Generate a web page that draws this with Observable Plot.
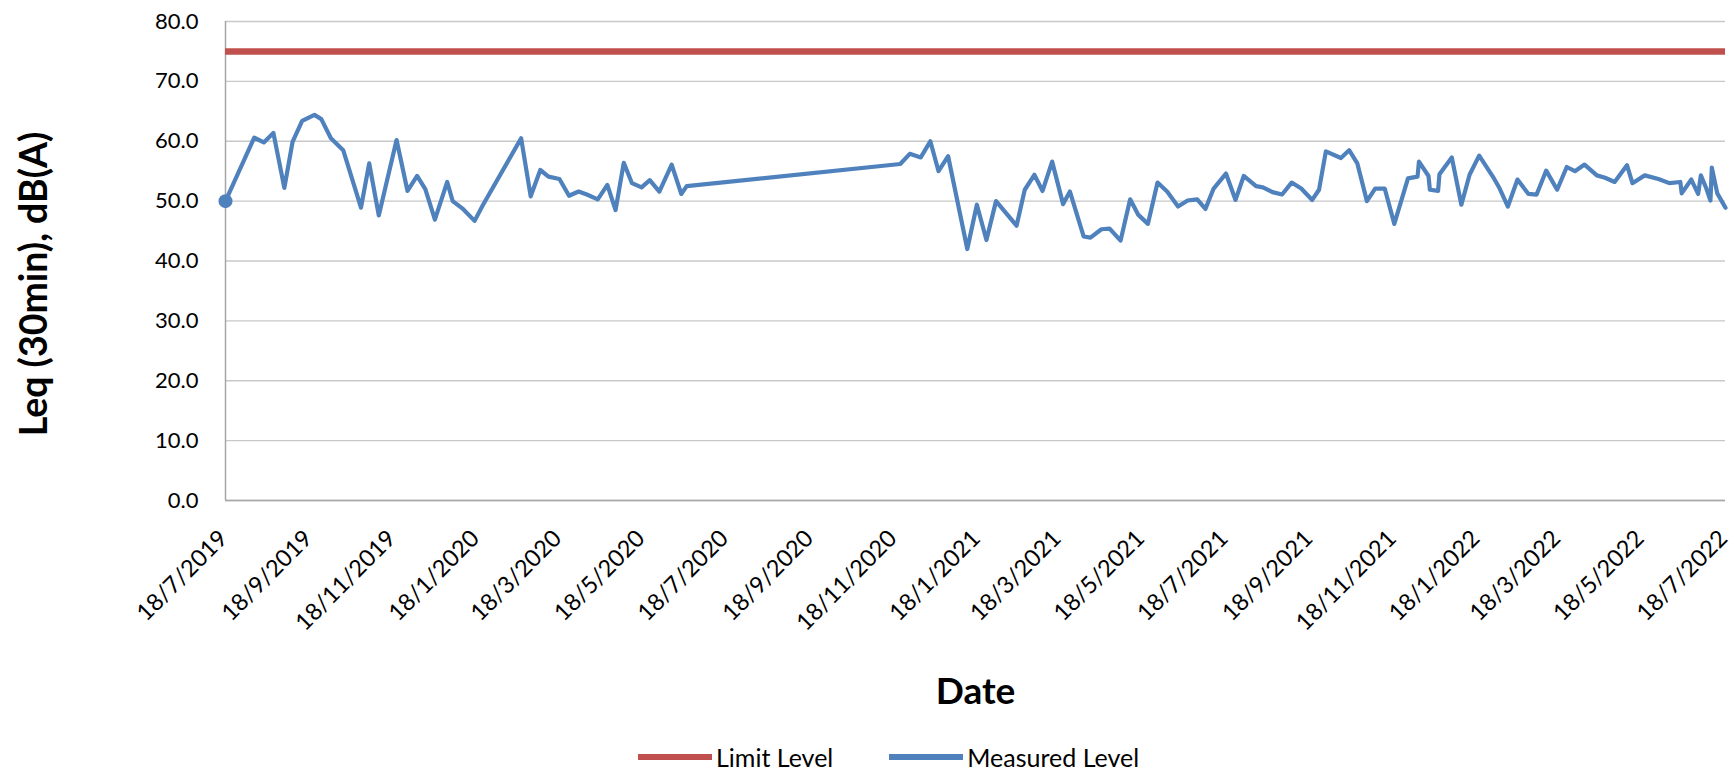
<!DOCTYPE html>
<html><head><meta charset="utf-8">
<script src="https://cdn.jsdelivr.net/npm/d3@7"></script>
<script src="https://cdn.jsdelivr.net/npm/@observablehq/plot@0.6"></script>
<style>
body{margin:0;background:#fff;font-family:Lato,"Open Sans",sans-serif;}
#wrap{position:relative;width:1733px;height:774px;overflow:hidden;background:#fff;}
#legend{position:absolute;left:638px;top:741px;display:flex;align-items:center;font-size:25px;color:#000;line-height:32px;white-space:nowrap;}
.sw{display:inline-block;width:74px;height:6px;margin-right:4px;}
.item{display:flex;align-items:center;margin-right:56px;}
</style></head><body>
<div id="wrap"><div id="chart"></div>
<div id="legend"></div></div>
<script>
const measuredDates = [
"2019-07-18","2019-08-08","2019-08-15","2019-08-22","2019-08-30","2019-09-05","2019-09-12","2019-09-21","2019-09-26",
"2019-10-03","2019-10-12","2019-10-25","2019-10-31","2019-11-07","2019-11-20","2019-11-28","2019-12-05","2019-12-11",
"2019-12-18","2019-12-27","2019-12-31","2020-01-07","2020-01-16","2020-01-22","2020-02-19","2020-02-26","2020-03-04",
"2020-03-10","2020-03-18","2020-03-25","2020-04-01","2020-04-07","2020-04-15","2020-04-22","2020-04-28","2020-05-04",
"2020-05-10","2020-05-17","2020-05-23","2020-05-30","2020-06-08","2020-06-15","2020-06-19","2020-11-22","2020-11-29",
"2020-12-07","2020-12-14","2020-12-20","2020-12-27","2021-01-10","2021-01-17","2021-01-24","2021-01-31","2021-02-15",
"2021-02-21","2021-02-28","2021-03-06","2021-03-13","2021-03-21","2021-03-26","2021-04-05","2021-04-10","2021-04-18",
"2021-04-24","2021-05-02","2021-05-09","2021-05-15","2021-05-22","2021-05-29","2021-06-05","2021-06-13","2021-06-20",
"2021-06-27","2021-07-03","2021-07-09","2021-07-18","2021-07-25","2021-07-31","2021-08-09","2021-08-14","2021-08-21",
"2021-08-28","2021-09-04","2021-09-11","2021-09-19","2021-09-24","2021-09-29","2021-10-10","2021-10-16","2021-10-22",
"2021-10-29","2021-11-04","2021-11-11","2021-11-18","2021-11-28","2021-12-05","2021-12-06","2021-12-13","2021-12-14",
"2021-12-20","2021-12-21","2021-12-30","2022-01-06","2022-01-12","2022-01-19","2022-01-29","2022-02-03","2022-02-09",
"2022-02-16","2022-02-24","2022-03-02","2022-03-09","2022-03-17","2022-03-24","2022-03-30","2022-04-06","2022-04-15",
"2022-04-21","2022-04-28","2022-05-07","2022-05-11","2022-05-20","2022-05-30","2022-06-07","2022-06-15","2022-06-16",
"2022-06-23","2022-06-28","2022-06-30","2022-07-04","2022-07-07","2022-07-08","2022-07-12","2022-07-18"
];
const measuredLevels = [
50.0,60.6,59.8,61.4,52.2,59.9,63.4,64.4,63.7,
60.5,58.5,48.9,56.3,47.6,60.2,51.7,54.2,52.0,
46.9,53.2,50.0,48.8,46.7,49.3,60.5,50.8,55.2,
54.1,53.7,50.9,51.6,51.1,50.3,52.7,48.5,56.4,
53.0,52.3,53.5,51.6,56.1,51.2,52.5,56.2,57.9,
57.3,60.0,55.0,57.5,42.0,49.4,43.5,50.0,45.9,
51.9,54.4,51.7,56.6,49.5,51.6,44.1,43.9,45.3,
45.4,43.4,50.3,47.7,46.2,53.1,51.6,49.1,50.1,
50.3,48.7,52.1,54.6,50.2,54.2,52.5,52.3,51.5,
51.1,53.1,52.1,50.2,51.9,58.3,57.2,58.5,56.3,
50.0,52.1,52.1,46.2,53.8,54.1,56.6,54.2,51.9,
51.7,54.5,57.3,49.4,54.4,57.6,54.1,52.1,49.1,
53.6,51.2,51.1,55.1,51.9,55.7,55.0,56.1,54.3,
53.9,53.2,56.0,53.0,54.3,53.7,53.0,53.2,51.3,
53.6,51.2,54.3,52.1,50.1,55.6,51.3,48.9
];
const limitLevel = 75;
const xTickDates = [
"2019-07-18","2019-09-18","2019-11-18","2020-01-18","2020-03-18","2020-05-18","2020-07-18",
"2020-09-18","2020-11-18","2021-01-18","2021-03-18","2021-05-18","2021-07-18","2021-09-18",
"2021-11-18","2022-01-18","2022-03-18","2022-05-18","2022-07-18"
];
const yTicks = [0,10,20,30,40,50,60,70,80];
const seriesNames = ["Limit Level","Measured Level"];
const seriesColors = ["#c0504d","#4f81bd"];
const yTitle = "Leq (30min), dB(A)";
const xTitle = "Date";

const data = measuredDates.map((d,i)=>({date:new Date(d), level:measuredLevels[i]}));
const ticks = xTickDates.map(d=>new Date(d));
const fmt = d3.utcFormat("%-d/%-m/%Y");
const font = "Lato, 'Open Sans', sans-serif";

const chart = Plot.plot({
  width:1733, height:740,
  marginLeft:225, marginRight:8, marginTop:21, marginBottom:240,
  style:{fontFamily:font, fontSize:"22px", color:"#000", background:"#fff", overflow:"visible"},
  x:{type:"utc", domain:[ticks[0], ticks[ticks.length-1]], axis:null},
  y:{domain:[0,80], axis:null},
  marks:[
    Plot.gridY(yTicks, {stroke:"#c8c8c8", strokeOpacity:1, strokeWidth:1.3}),
    Plot.axisY(yTicks, {tickFormat:d3.format(".1f"), tickSize:0, tickPadding:27, fontSize:22, label:null, fill:"#000"}),
    Plot.ruleX([ticks[0]], {stroke:"#a6a6a6", strokeWidth:1.5}),
    Plot.ruleY([0], {stroke:"#a6a6a6", strokeWidth:1.5}),
    Plot.ruleY([limitLevel], {stroke:seriesColors[0], strokeWidth:6.5}),
    Plot.line(data, {x:"date", y:"level", stroke:seriesColors[1], strokeWidth:4.2, strokeLinejoin:"round"}),
    Plot.dot(data.slice(0,1), {x:"date", y:"level", r:7, fill:seriesColors[1], stroke:"none"}),
    Plot.text(ticks, {x:d=>d, frameAnchor:"bottom", text:d=>fmt(d), rotate:-45, textAnchor:"end", lineAnchor:"middle", dx:-2, dy:34, fontSize:23.5, fill:"#000"}),
    Plot.text([yTitle], {frameAnchor:"left", text:d=>d, rotate:-90, textAnchor:"middle", lineAnchor:"middle", dx:-191, dy:23, fontSize:37.5, fontWeight:"bold", fill:"#000"}),
    Plot.text([xTitle], {frameAnchor:"bottom", text:d=>d, textAnchor:"middle", lineAnchor:"middle", dy:192, fontSize:37, fontWeight:"bold", fill:"#000"})
  ]
});
document.getElementById("chart").appendChild(chart);

const legend = document.getElementById("legend");
seriesNames.forEach((n,i)=>{
  const it = document.createElement("span"); it.className="item";
  const sw = document.createElement("span"); sw.className="sw"; sw.style.background=seriesColors[i];
  const tx = document.createElement("span"); tx.textContent=n;
  it.appendChild(sw); it.appendChild(tx); legend.appendChild(it);
});
</script>
</body></html>
